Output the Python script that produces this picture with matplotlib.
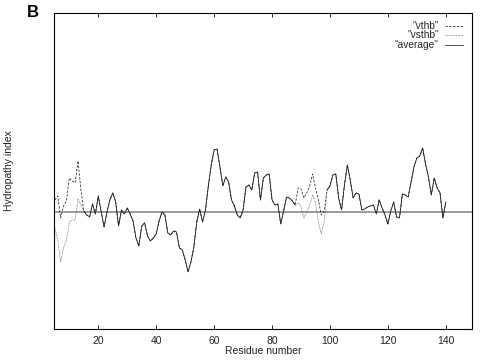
import numpy as np
import matplotlib
matplotlib.use("Agg")
import matplotlib.pyplot as plt

plt.rcParams['font.family'] = ['Liberation Sans', 'DejaVu Sans']

residues = list(range(5, 141))

vthb = [
    0.24, 0.32, -0.12, 0.12, 0.22, 0.68, 0.62, 0.58, 1.02, 0.44,
    0.02, -0.06, -0.10, 0.16, -0.04, 0.32, 0.00, -0.30, 0.00, 0.24,
    0.38, 0.20, -0.28, 0.04, -0.04, 0.08, -0.04, -0.18, -0.52, -0.68,
    -0.28, -0.22, -0.48, -0.58, -0.52, -0.44, -0.18, 0.00, -0.06, -0.42,
    -0.46, -0.38, -0.40, -0.72, -0.76, -0.96, -1.20, -1.00, -0.70, -0.20,
    0.06, -0.20, 0.04, 0.52, 0.94, 1.24, 1.26, 0.90, 0.52, 0.70,
    0.60, 0.24, 0.12, -0.06, -0.12, 0.04, 0.50, 0.54, 0.44, 0.78,
    0.80, 0.24, 0.68, 0.74, 0.76, 0.24, 0.14, 0.16, -0.24, 0.02,
    0.30, 0.28, 0.22, 0.14, 0.48, 0.46, 0.28, 0.38, 0.52, 0.76,
    0.48, 0.24, -0.06, 0.02, 0.44, 0.52, 0.74, 0.76, 0.28, 0.04,
    0.54, 0.94, 0.64, 0.28, 0.38, 0.36, 0.04, 0.06, 0.10, 0.12,
    0.14, -0.04, 0.24, 0.08, -0.06, -0.24, 0.02, 0.20, -0.10, -0.12,
    0.36, 0.34, 0.30, 0.60, 0.90, 1.08, 1.12, 1.28, 0.96, 0.70,
    0.34, 0.68, 0.48, 0.38, -0.12, 0.20,
]

vsthb = [
    -0.32, -0.56, -1.00, -0.72, -0.56, -0.20, -0.16, -0.16, 0.26, 0.14,
    0.02, -0.06, -0.10, 0.16, -0.04, 0.32, 0.00, -0.30, 0.00, 0.24,
    0.38, 0.20, -0.28, 0.04, -0.04, 0.08, -0.04, -0.18, -0.52, -0.68,
    -0.28, -0.22, -0.48, -0.58, -0.52, -0.44, -0.18, 0.00, -0.06, -0.42,
    -0.46, -0.38, -0.40, -0.72, -0.76, -0.96, -1.20, -1.00, -0.70, -0.20,
    0.06, -0.20, 0.04, 0.52, 0.94, 1.24, 1.26, 0.90, 0.52, 0.70,
    0.60, 0.24, 0.12, -0.06, -0.12, 0.04, 0.50, 0.54, 0.44, 0.78,
    0.80, 0.24, 0.68, 0.74, 0.76, 0.24, 0.14, 0.16, -0.24, 0.02,
    0.30, 0.28, 0.22, 0.14, 0.18, 0.10, -0.12, 0.00, 0.14, 0.34,
    0.18, -0.20, -0.44, -0.20, 0.44, 0.52, 0.74, 0.76, 0.28, 0.04,
    0.54, 0.94, 0.64, 0.28, 0.38, 0.36, 0.04, 0.06, 0.10, 0.12,
    0.14, -0.04, 0.24, 0.08, -0.06, -0.24, 0.02, 0.20, -0.10, -0.12,
    0.36, 0.34, 0.30, 0.60, 0.90, 1.08, 1.12, 1.28, 0.96, 0.70,
    0.34, 0.68, 0.48, 0.38, -0.12, 0.20,
]

# average only drawn where both profiles agree (gaps = None)
average = [None] * 10 + vthb[10:84] + [None] * 10 + vthb[94:]

xticks = [20, 40, 60, 80, 100, 120, 140]
labels = ['"vthb"', '"vsthb"', '"average"']

fig = plt.figure(figsize=(4.82, 3.63), dpi=100)
ax = fig.add_axes([0.112, 0.094, 0.867, 0.870])

avg = np.array([np.nan if v is None else v for v in average])
ax.axhline(0, color="#808080", lw=1.1, zorder=1)
ax.plot(residues, vthb, color="#222222", lw=0.55, ls=(0, (3, 2)), zorder=2)
ax.plot(residues, vsthb, color="#666666", lw=0.55, ls=(0, (1, 1)), zorder=2)
ax.plot(residues, avg, color="#222222", lw=0.55, zorder=3)

ax.set_xlim(4.7, 149)
ax.set_ylim(-2.34, 3.98)
ax.set_xticks(xticks)
ax.set_yticks([])
ax.tick_params(axis="x", direction="in", top=True, length=3, width=0.6,
               labelsize=7.5, pad=5, labelcolor="#222222")
for s in ax.spines.values():
    s.set_linewidth(0.8)

ax.set_xlabel("Residue number", fontsize=7.5, labelpad=0, color="#222222")
fig.text(0.018, 0.53, "Hydropathy index", rotation=90, fontsize=7.5,
         ha="center", va="center", color="#222222")
fig.text(0.068, 0.965, "B", fontsize=12, fontweight="bold", ha="center", va="center")

# gnuplot style key, text right-aligned then sample line
styles = [dict(color="#222222", ls=(0, (3, 2))),
          dict(color="#666666", ls=(0, (1, 1))),
          dict(color="#222222", ls="-")]
for i, (lab, st) in enumerate(zip(labels, styles)):
    y = 0.960 - i * 0.030
    ax.text(0.921, y, lab, transform=ax.transAxes, ha="right", va="center",
            fontsize=7.3, color="#222222")
    ax.plot([0.935, 0.978], [y, y], transform=ax.transAxes, lw=0.55, **st)

fig.savefig("out.png", dpi=100)
